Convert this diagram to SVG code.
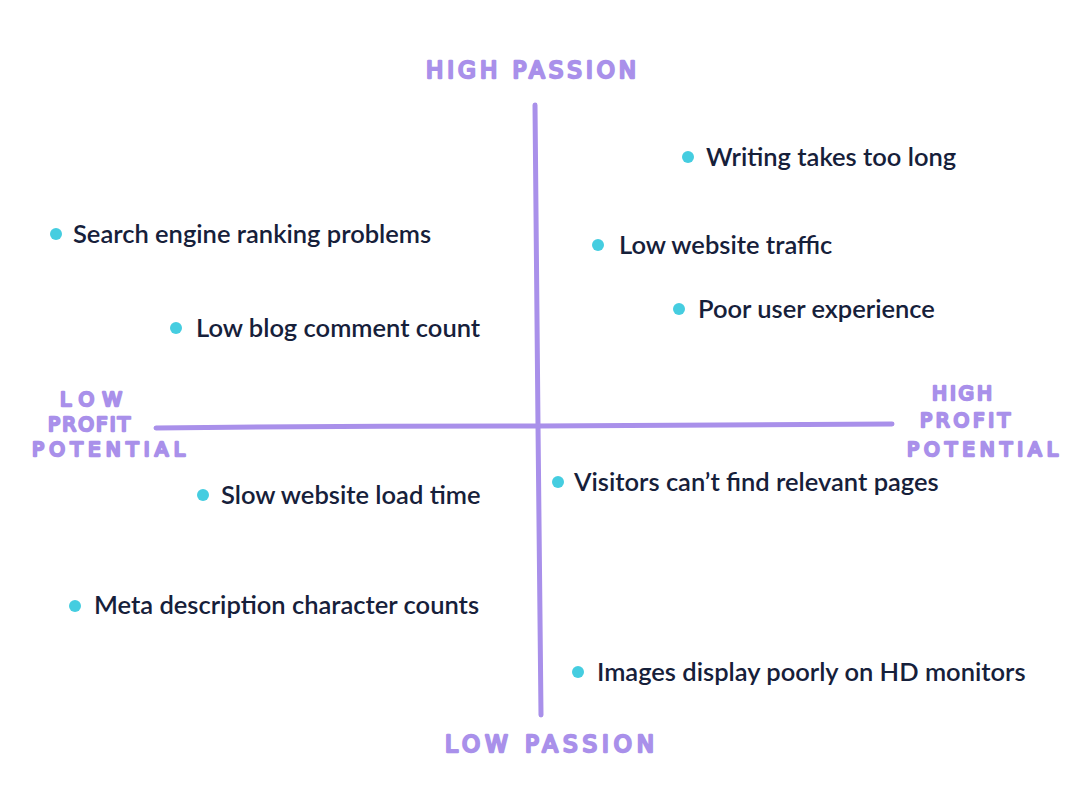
<svg xmlns="http://www.w3.org/2000/svg" width="1080" height="810" viewBox="0 0 1080 810">
<style>
.axis{stroke:#a990ea;stroke-width:5;stroke-linecap:round;fill:none}
.hand{font-family:"DejaVu Sans",sans-serif;font-size:23px;fill:#a990ea;stroke:#a990ea;stroke-width:2.4;stroke-linejoin:round;stroke-linecap:round}
.hs{font-size:20px}
.lbl{font-family:Lato,"Noto Sans",sans-serif;font-size:25.5px;font-weight:600;fill:#16203a}
.dot{fill:#45cde0}
</style>
<rect width="1080" height="810" fill="#ffffff"/>
<g id="axes">
<path class="axis" d="M535,105 Q537,260 538,425 Q539,570 541,715"/>
<path class="axis" d="M156,428 Q350,426 538,426 Q720,425 892,424"/>
</g>
<g id="axis-labels">
<text class="hand" x="426" y="78" textLength="210" lengthAdjust="spacing">HIGH PASSION</text>
<text class="hand" x="445" y="752" textLength="209" lengthAdjust="spacing">LOW PASSION</text>
<text class="hand hs" x="60" y="406" textLength="62" lengthAdjust="spacing">LOW</text>
<text class="hand hs" x="48" y="431" textLength="82" lengthAdjust="spacing">PROFIT</text>
<text class="hand hs" x="32" y="456" textLength="153" lengthAdjust="spacing">POTENTIAL</text>
<text class="hand hs" x="932" y="400" textLength="60" lengthAdjust="spacing">HIGH</text>
<text class="hand hs" x="920" y="427" textLength="90" lengthAdjust="spacing">PROFIT</text>
<text class="hand hs" x="907" y="456" textLength="151" lengthAdjust="spacing">POTENTIAL</text>
</g>
<g id="n1"><circle class="dot" cx="688" cy="157" r="6"/><text class="lbl" x="706" y="166">Writing takes too long</text></g>
<g id="n2"><circle class="dot" cx="56" cy="234" r="6"/><text class="lbl" x="73" y="243">Search engine ranking problems</text></g>
<g id="n3"><circle class="dot" cx="598" cy="245" r="6"/><text class="lbl" x="619" y="254">Low website traffic</text></g>
<g id="n4"><circle class="dot" cx="679" cy="309" r="6"/><text class="lbl" x="698" y="318">Poor user experience</text></g>
<g id="n5"><circle class="dot" cx="176" cy="328" r="6"/><text class="lbl" x="196" y="337">Low blog comment count</text></g>
<g id="n6"><circle class="dot" cx="203" cy="495" r="6"/><text class="lbl" x="221" y="504">Slow website load time</text></g>
<g id="n7"><circle class="dot" cx="558" cy="482" r="6"/><text class="lbl" x="574" y="491">Visitors can’t find relevant pages</text></g>
<g id="n8"><circle class="dot" cx="75" cy="606" r="6"/><text class="lbl" x="94" y="614">Meta description character counts</text></g>
<g id="n9"><circle class="dot" cx="578" cy="672" r="6"/><text class="lbl" x="597" y="681">Images display poorly on HD monitors</text></g>
</svg>
